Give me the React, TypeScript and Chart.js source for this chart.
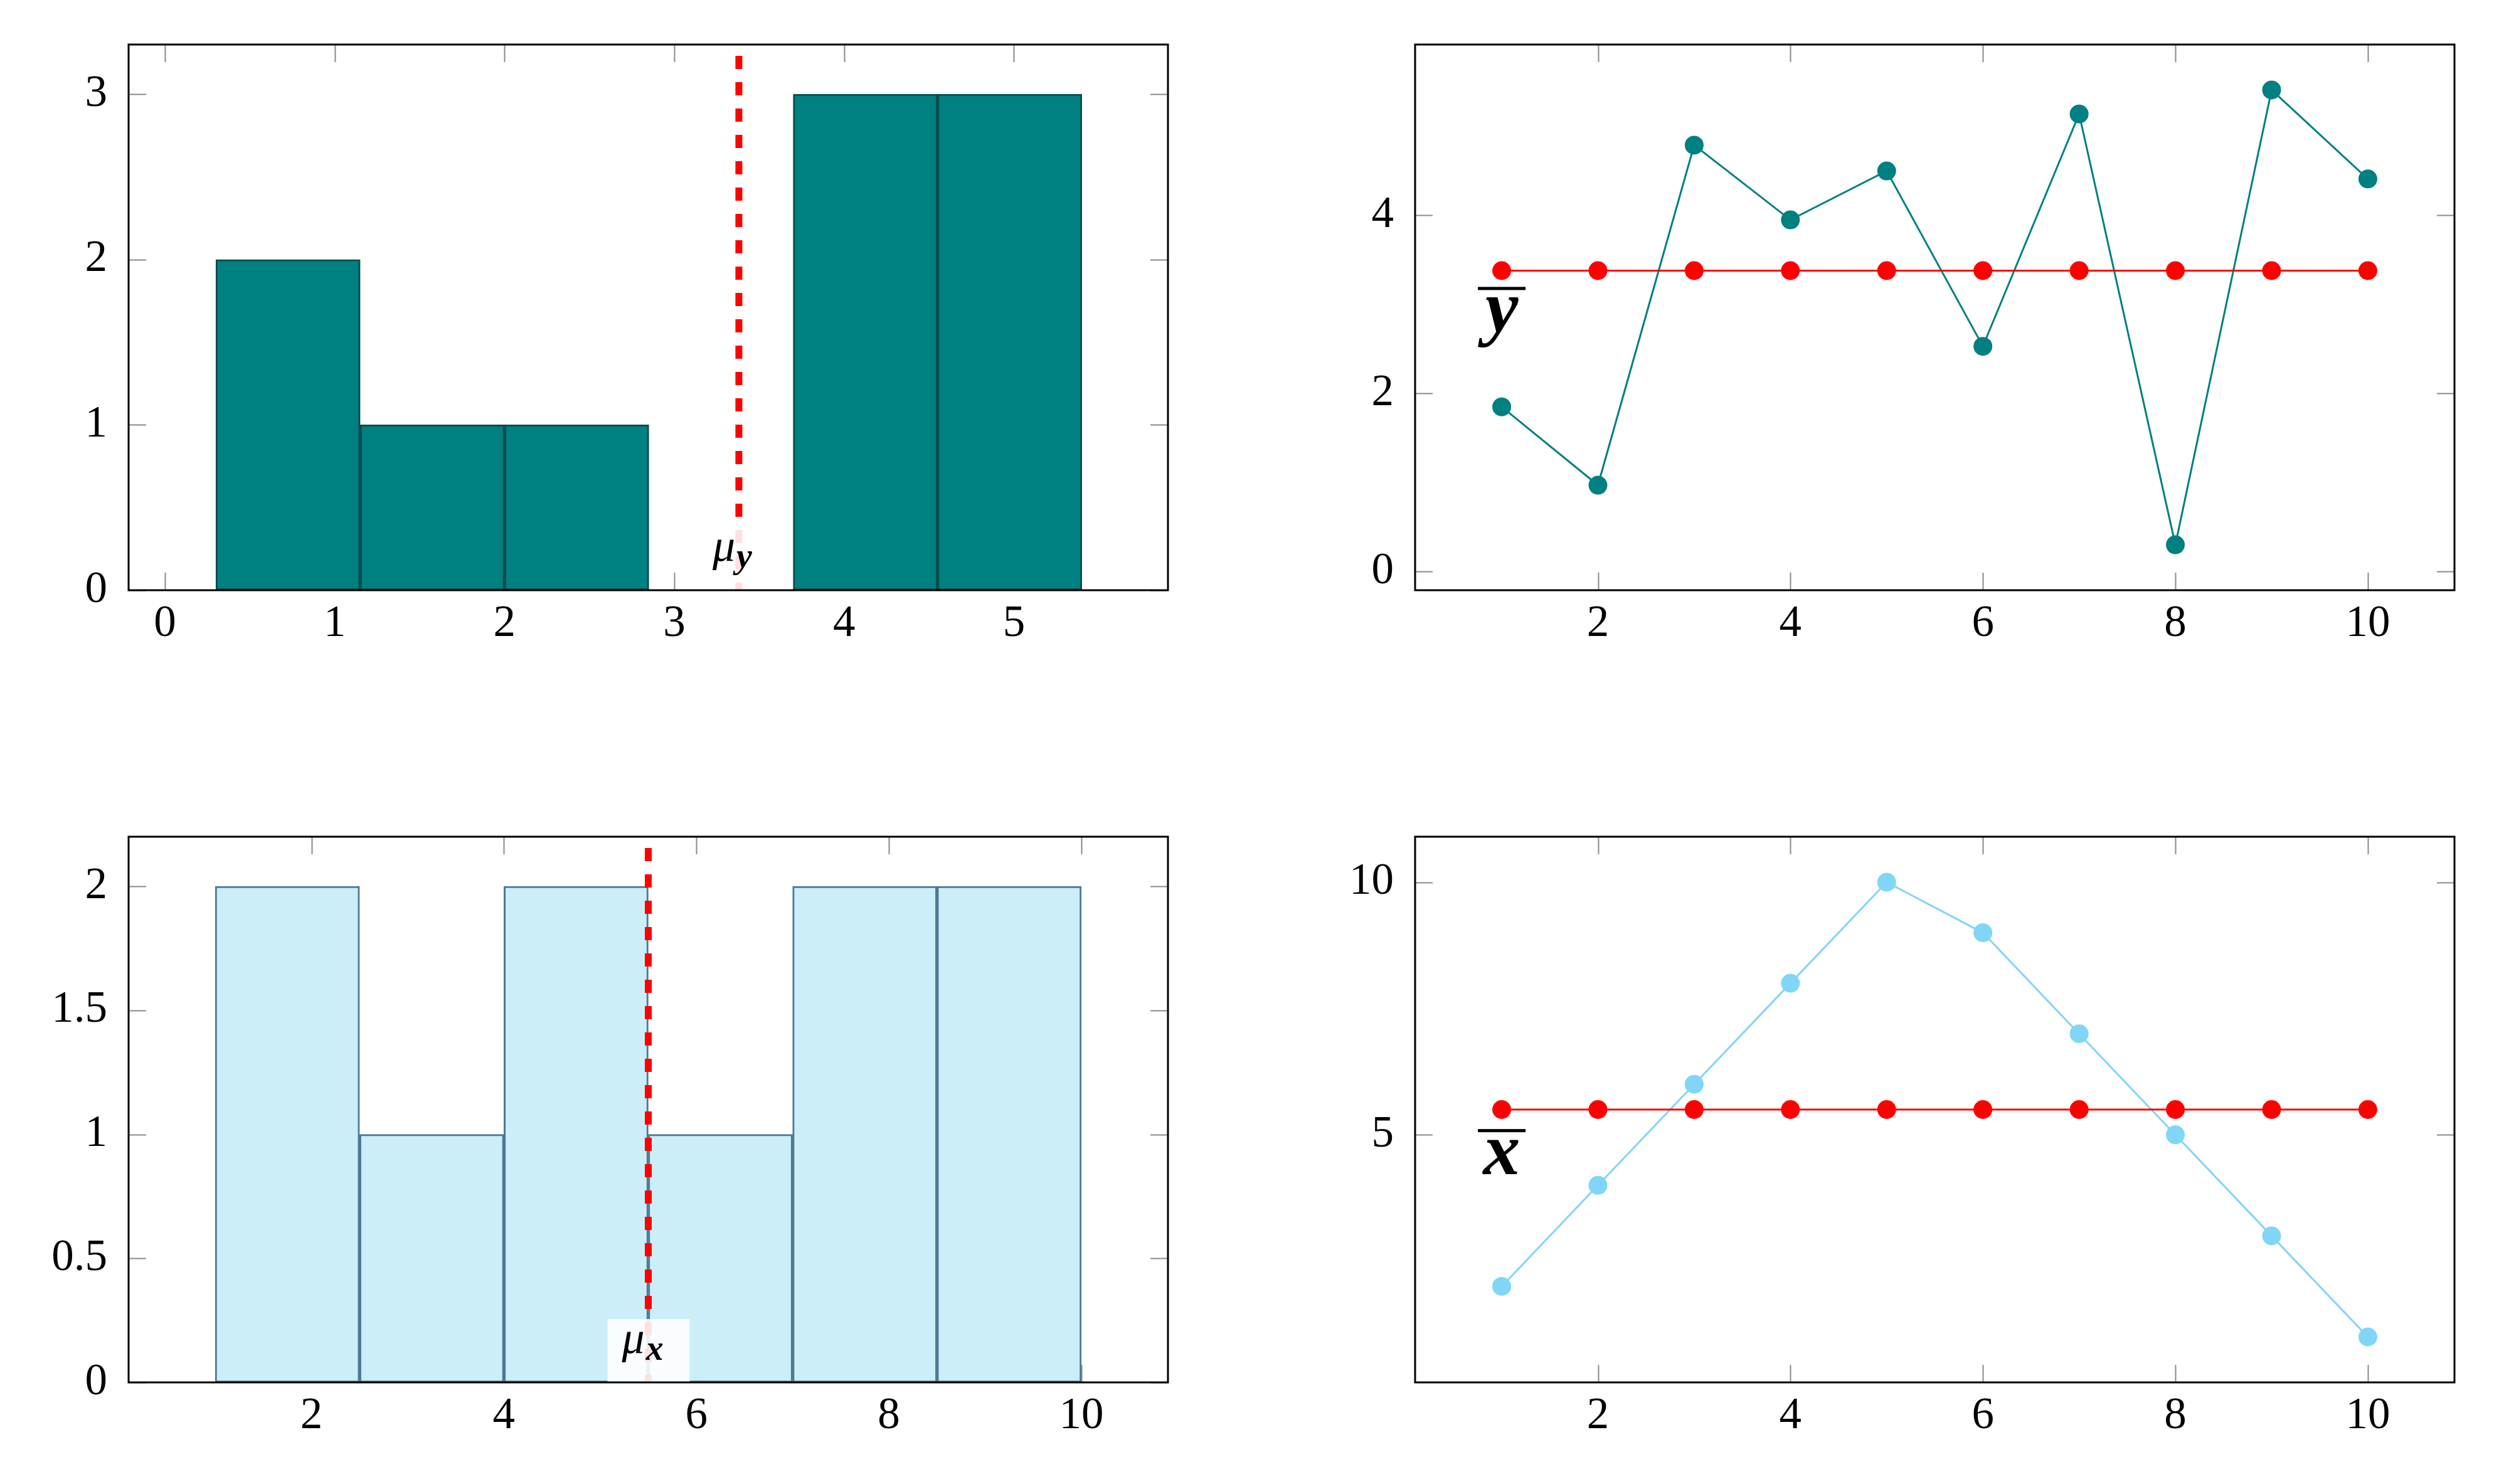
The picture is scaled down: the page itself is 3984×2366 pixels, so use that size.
import { useEffect, useRef } from 'react'
import { Chart, registerables } from 'chart.js'

Chart.register(...registerables)

// ---- data ----

// top-left: histogram of the y values
const yBinEdges = [0.3, 1.15, 2.0, 2.85, 3.7, 4.55, 5.4]
const yBinCounts = [2, 1, 1, 0, 3, 3]
const yHistXTicks = [0, 1, 2, 3, 4, 5]
const yHistYTicks = [0, 1, 2, 3]
const meanY = 3.38

// bottom-left: histogram of the x values
const xBinEdges = [1, 2.5, 4, 5.5, 7, 8.5, 10]
const xBinCounts = [2, 1, 2, 1, 2, 2]
const xHistXTicks = [2, 4, 6, 8, 10]
const xHistYTicks = [0, 0.5, 1, 1.5, 2]
const meanX = 5.5

// right column: series against their index
const sampleIndex = [1, 2, 3, 4, 5, 6, 7, 8, 9, 10]
const yValues = [1.85, 0.97, 4.79, 3.95, 4.5, 2.53, 5.14, 0.3, 5.41, 4.41]
const yMeanValues = [3.38, 3.38, 3.38, 3.38, 3.38, 3.38, 3.38, 3.38, 3.38, 3.38]
const xValues = [2, 4, 6, 8, 10, 9, 7, 5, 3, 1]
const xMeanValues = [5.5, 5.5, 5.5, 5.5, 5.5, 5.5, 5.5, 5.5, 5.5, 5.5]
const indexTicks = [2, 4, 6, 8, 10]
const yLineTicks = [0, 2, 4]
const xLineTicks = [5, 10]

// ---- styling / layout ----
const TEAL = '#008080'
const TEAL_EDGE = '#0a4c4c'
const SKY = '#81d6f7'
const SKY_FILL = '#cbeef9'
const SKY_EDGE = '#4d7894'
const RED = '#ff0000'
const SERIF = "'Liberation Serif', 'DejaVu Serif', serif"
const tickFont = { family: SERIF, size: 71, lineHeight: 1.2 }

const PAD_L = 200
const PAD_T = 30
const PAD_R = 40
const PAD_B = 150
const TICK_LEN = 28

const COL_LEFT = [205, 2256]
const ROW_TOP = [71, 1334]
const PLOT_W = 1657
const PLOT_H = 870

const framePlugin = {
  id: 'frame',
  beforeDatasetsDraw(chart: any) {
    const { ctx, chartArea: a, scales } = chart
    ctx.save()
    ctx.strokeStyle = '#8a8a8a'
    ctx.lineWidth = 2
    ctx.beginPath()
    for (const t of scales.x.ticks) {
      const px = Math.round(scales.x.getPixelForValue(t.value)) + 0.5
      ctx.moveTo(px, a.bottom)
      ctx.lineTo(px, a.bottom - TICK_LEN)
      ctx.moveTo(px, a.top)
      ctx.lineTo(px, a.top + TICK_LEN)
    }
    for (const t of scales.y.ticks) {
      const py = Math.round(scales.y.getPixelForValue(t.value)) + 0.5
      ctx.moveTo(a.left, py)
      ctx.lineTo(a.left + TICK_LEN, py)
      ctx.moveTo(a.right, py)
      ctx.lineTo(a.right - TICK_LEN, py)
    }
    ctx.stroke()
    ctx.restore()
  },
  afterDraw(chart: any) {
    const { ctx, chartArea: a } = chart
    ctx.save()
    ctx.strokeStyle = '#000'
    ctx.lineWidth = 3
    ctx.strokeRect(a.left, a.top, a.right - a.left, a.bottom - a.top)
    ctx.restore()
  },
}

// mu label sitting on the mean line, with a translucent white box
const meanLabelPlugin = {
  id: 'meanLabel',
  afterDatasetsDraw(chart: any, _args: any, opts: any) {
    if (opts.x === undefined) return
    const { ctx, chartArea: a, scales } = chart
    const px = scales.x.getPixelForValue(opts.x)
    ctx.save()
    ctx.fillStyle = 'rgba(255,255,255,0.88)'
    ctx.fillRect(px - 65, a.bottom - 101, 131, 101)
    ctx.fillStyle = '#000'
    ctx.textAlign = 'left'
    ctx.textBaseline = 'alphabetic'
    ctx.font = `italic 72px ${SERIF}`
    ctx.fillText('μ', px - 42, a.bottom - 47)
    const w = ctx.measureText('μ').width
    ctx.font = `bold italic 56px ${SERIF}`
    ctx.fillText(opts.sub, px - 42 + w + 2, a.bottom - 36)
    ctx.restore()
  },
}

// bold italic letter with an overline (the sample mean)
const barLabelPlugin = {
  id: 'barLabel',
  afterDatasetsDraw(chart: any, _args: any, opts: any) {
    if (opts.text === undefined) return
    const { ctx, scales } = chart
    const px = scales.x.getPixelForValue(opts.x)
    const py = scales.y.getPixelForValue(opts.y)
    ctx.save()
    ctx.fillStyle = '#000'
    ctx.font = `bold italic 118px ${SERIF}`
    ctx.textAlign = 'center'
    ctx.textBaseline = 'alphabetic'
    ctx.fillText(opts.text, px, py)
    ctx.fillRect(px - 38, py - 72, 76, 5)
    ctx.restore()
  },
}

Chart.register(framePlugin, meanLabelPlugin, barLabelPlugin)

// pin the axis boxes so the plot area lands exactly where the reference has it
function pinX(s: any) {
  s.height = PAD_B
  s.paddingLeft = 0
  s.paddingRight = 0
  s.paddingTop = 0
  s.paddingBottom = 0
}

function pinY(s: any) {
  s.width = PAD_L
  s.paddingLeft = 0
  s.paddingRight = 0
  s.paddingTop = 0
  s.paddingBottom = 0
}

function axes(xMin: number, xMax: number, xTicks: number[], yMin: number, yMax: number, yTicks: number[]) {
  return {
    x: {
      type: 'linear',
      min: xMin,
      max: xMax,
      offset: false,
      grid: { display: false },
      border: { display: false },
      afterBuildTicks: (s: any) => {
        s.ticks = xTicks.map((v) => ({ value: v }))
      },
      afterFit: pinX,
      ticks: { font: tickFont, color: '#000', padding: 4, maxRotation: 0, autoSkip: false, callback: (v: any) => String(v) },
    },
    y: {
      type: 'linear',
      min: yMin,
      max: yMax,
      grid: { display: false },
      border: { display: false },
      afterBuildTicks: (s: any) => {
        s.ticks = yTicks.map((v) => ({ value: v }))
      },
      afterFit: pinY,
      ticks: { font: tickFont, color: '#000', padding: 26, autoSkip: false, callback: (v: any) => String(v) },
    },
  }
}

const baseOptions = {
  animation: false,
  responsive: true,
  maintainAspectRatio: false,
  layout: { padding: { left: 0, top: PAD_T, right: PAD_R, bottom: 0 } },
}

function histogramConfig(
  edges: number[],
  counts: number[],
  fill: string,
  edge: string,
  mean: number,
  sub: string,
  xr: [number, number],
  xTicks: number[],
  yMax: number,
  yTicks: number[]
) {
  return {
    type: 'bar',
    data: {
      datasets: [
        {
          type: 'line',
          data: [
            { x: mean, y: yMax },
            { x: mean, y: 0 },
          ],
          borderColor: RED,
          borderWidth: 11,
          borderDash: [21, 21],
          borderDashOffset: 24,
          borderCapStyle: 'butt',
          pointRadius: 0,
        },
        {
          type: 'bar',
          data: counts.map((c, i) => ({ x: (edges[i] + edges[i + 1]) / 2, y: c })),
          backgroundColor: fill,
          borderColor: edge,
          borderWidth: 3,
          borderSkipped: false,
          barPercentage: 1,
          categoryPercentage: 1,
        },
      ],
    },
    options: {
      ...baseOptions,
      scales: axes(xr[0], xr[1], xTicks, 0, yMax, yTicks),
      plugins: {
        legend: { display: false },
        tooltip: { enabled: false },
        meanLabel: { x: mean, sub },
      },
    },
  }
}

function seriesConfig(
  values: number[],
  means: number[],
  color: string,
  yr: [number, number],
  yTicks: number[],
  label: string,
  labelY: number
) {
  const pts = (vals: number[]) => sampleIndex.map((x, i) => ({ x, y: vals[i] }))
  return {
    type: 'line',
    data: {
      datasets: [
        {
          data: pts(means),
          borderColor: RED,
          backgroundColor: RED,
          pointBackgroundColor: RED,
          borderWidth: 3,
          pointRadius: 15,
          pointBorderWidth: 0,
        },
        {
          data: pts(values),
          borderColor: color,
          backgroundColor: color,
          pointBackgroundColor: color,
          borderWidth: 3,
          pointRadius: 15,
          pointBorderWidth: 0,
        },
      ],
    },
    options: {
      ...baseOptions,
      scales: axes(0.1, 10.9, indexTicks, yr[0], yr[1], yTicks),
      plugins: {
        legend: { display: false },
        tooltip: { enabled: false },
        barLabel: { text: label, x: 1, y: labelY },
      },
    },
  }
}

function Panel({ left, top, config }: { left: number; top: number; config: () => any }) {
  const canvasRef = useRef<HTMLCanvasElement>(null)

  useEffect(() => {
    const chart = new Chart(canvasRef.current as HTMLCanvasElement, config())
    return () => {
      chart.destroy()
    }
    // eslint-disable-next-line react-hooks/exhaustive-deps
  }, [])

  return (
    <div
      style={{
        position: 'absolute',
        left: left - PAD_L,
        top: top - PAD_T,
        width: PLOT_W + PAD_L + PAD_R,
        height: PLOT_H + PAD_T + PAD_B,
      }}
    >
      <canvas ref={canvasRef} />
    </div>
  )
}

export default function App() {
  return (
    <div style={{ position: 'absolute', left: 0, top: 0, width: 3984, height: 2366, background: '#fff' }}>
      <Panel
        left={COL_LEFT[0]}
        top={ROW_TOP[0]}
        config={() =>
          histogramConfig(yBinEdges, yBinCounts, TEAL, TEAL_EDGE, meanY, 'y', [-0.214, 5.907], yHistXTicks, 3.3, yHistYTicks)
        }
      />
      <Panel
        left={COL_LEFT[1]}
        top={ROW_TOP[0]}
        config={() => seriesConfig(yValues, yMeanValues, TEAL, [-0.21, 5.92], yLineTicks, 'y', 2.69)}
      />
      <Panel
        left={COL_LEFT[0]}
        top={ROW_TOP[1]}
        config={() =>
          histogramConfig(xBinEdges, xBinCounts, SKY_FILL, SKY_EDGE, meanX, 'x', [0.1, 10.9], xHistXTicks, 2.2, xHistYTicks)
        }
      />
      <Panel
        left={COL_LEFT[1]}
        top={ROW_TOP[1]}
        config={() => seriesConfig(xValues, xMeanValues, SKY, [0.1, 10.9], xLineTicks, 'x', 4.22)}
      />
    </div>
  )
}
